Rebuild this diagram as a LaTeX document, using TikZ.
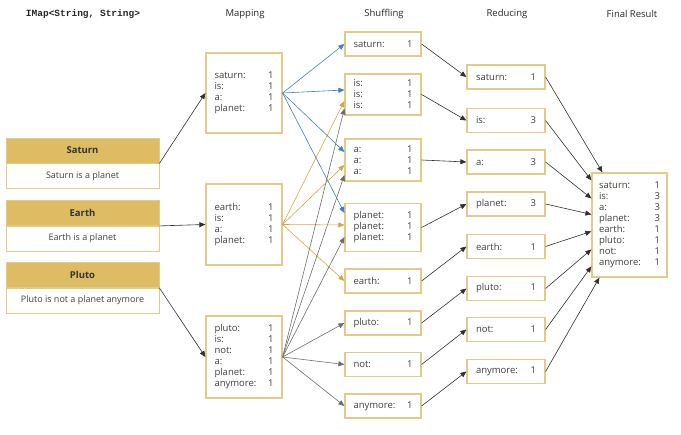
\documentclass[tikz,border=0pt]{standalone}
\usepackage{fontspec}
\setmainfont{Open Sans}
\newfontfamily\codefont{Liberation Mono}
\usetikzlibrary{arrows.meta,calc}
\definecolor{goldhdr}{HTML}{DEBC63}
\definecolor{goldline}{HTML}{E2CB88}
\definecolor{txt}{HTML}{404040}
\definecolor{arrblue}{HTML}{3D7CC9}
\definecolor{arrgold}{HTML}{D0A741}
\definecolor{arrgray}{HTML}{6E6E6E}
\definecolor{arrblack}{HTML}{303030}
\newcommand\kv[3][59pt]{\makebox[#1]{#2\hfill#3}}
\begin{document}
\begin{tikzpicture}[x=1pt,y=-1pt,
  box/.style={draw=goldline, line width=1.2pt, fill=white, minimum width=76pt, inner sep=0pt, text=txt, font=\fontsize{9.5}{11}\selectfont, align=left},
  hdr/.style={draw=goldline, fill=goldhdr, line width=0.8pt, minimum width=153pt, minimum height=25pt, inner sep=0pt, font=\fontsize{9.5}{10}\selectfont\bfseries, text=black!80},
  inbody/.style={draw=goldline, fill=white, line width=0.8pt, minimum width=153pt, minimum height=25pt, inner sep=0pt, font=\fontsize{9}{10}\selectfont, text=txt},
  coltitle/.style={font=\fontsize{9.5}{11}\selectfont, text=black!85, inner sep=0pt},
  conn/.style={-{Triangle[length=6pt,width=5pt]}, line width=0.6pt},
]
\useasboundingbox (0,0) rectangle (681,435);

% column titles
\node[coltitle] (t0) at (83,14) {\codefont\bfseries IMap<String, String>};
\node[coltitle] (t1) at (245,14) {Mapping};
\node[coltitle] (t2) at (384,14) {Shuffling};
\node[coltitle] (t3) at (507,14) {Reducing};
\node[coltitle] (t4) at (632,14) {Final Result};

% inputs
\node[inbody] (satb) at (82.5,176) {Saturn is a planet};
\node[hdr] (sat) at (82.5,150.5) {Saturn};
\node[inbody] (earb) at (82.5,238.5) {Earth is a planet};
\node[hdr] (ear) at (82.5,213) {Earth};
\node[inbody] (plub) at (82.5,300.5) {Pluto is not a planet anymore};
\node[hdr] (plu) at (82.5,275) {Pluto};

% mapping
\node[box, minimum height=80pt] (m1) at (244,93) {\kv{saturn:}{1}\\\kv{is:}{1}\\\kv{a:}{1}\\\kv{planet:}{1}};
\node[box, minimum height=81pt] (m2) at (244,224.5) {\kv{earth:}{1}\\\kv{is:}{1}\\\kv{a:}{1}\\\kv{planet:}{1}};
\node[box, minimum height=82pt] (m3) at (244,357) {\kv{pluto:}{1}\\\kv{is:}{1}\\\kv{not:}{1}\\\kv{a:}{1}\\\kv{planet:}{1}\\\kv{anymore:}{1}};

% shuffling
\node[box, minimum height=24pt] (s1) at (383,44) {\kv{saturn:}{1}};
\node[box, minimum height=41pt] (s2) at (383,94.5) {\kv{is:}{1}\\\kv{is:}{1}\\\kv{is:}{1}};
\node[box, minimum height=42pt] (s3) at (383,160) {\kv{a:}{1}\\\kv{a:}{1}\\\kv{a:}{1}};
\node[box, minimum height=48pt] (s4) at (383,227.5) {\kv{planet:}{1}\\\kv{planet:}{1}\\\kv{planet:}{1}};
\node[box, minimum height=24pt] (s5) at (383,281) {\kv{earth:}{1}};
\node[box, minimum height=24pt] (s6) at (383,323) {\kv{pluto:}{1}};
\node[box, minimum height=24pt] (s7) at (383,364.5) {\kv{not:}{1}};
\node[box, minimum height=24pt] (s8) at (383,406) {\kv{anymore:}{1}};

% reducing
\node[box, minimum width=78pt, minimum height=24pt] (r1) at (506,77) {\kv[60pt]{saturn:}{1}};
\node[box, minimum width=78pt, minimum height=24pt] (r2) at (506,120.5) {\kv[60pt]{is:}{3}};
\node[box, minimum width=78pt, minimum height=24pt] (r3) at (506,162) {\kv[60pt]{a:}{3}};
\node[box, minimum width=78pt, minimum height=24pt] (r4) at (506,204) {\kv[60pt]{planet:}{3}};
\node[box, minimum width=78pt, minimum height=24pt] (r5) at (506,246.5) {\kv[60pt]{earth:}{1}};
\node[box, minimum width=78pt, minimum height=24pt] (r6) at (506,288.5) {\kv[60pt]{pluto:}{1}};
\node[box, minimum width=78pt, minimum height=24pt] (r7) at (506,329.5) {\kv[60pt]{not:}{1}};
\node[box, minimum width=78pt, minimum height=24pt] (r8) at (506,371.5) {\kv[60pt]{anymore:}{1}};

% final
\node[box, minimum width=75pt, minimum height=104pt] (f) at (629.5,225) {\kv[61pt]{saturn:}{1}\\\kv[61pt]{is:}{3}\\\kv[61pt]{a:}{3}\\\kv[61pt]{planet:}{3}\\\kv[61pt]{earth:}{1}\\\kv[61pt]{pluto:}{1}\\\kv[61pt]{not:}{1}\\\kv[61pt]{anymore:}{1}};

% input -> mapping
\draw[conn, arrblack] (sat.south east) -- (m1.west);
\draw[conn, arrblack] (ear.south east) -- (m2.west);
\draw[conn, arrblack] (plu.south east) -- (m3.west);

% mapping -> shuffling
\draw[conn, arrblue] (m1.east) -- (s1.west);
\draw[conn, arrblue] (m1.east) -- ($(s2.west)+(0,-4.5)$);
\draw[conn, arrblue] (m1.east) -- ($(s3.west)+(0,-8)$);
\draw[conn, arrblue] (m1.east) -- ($(s4.west)+(0,-14.5)$);
\draw[conn, arrgold] (m2.east) -- ($(s2.west)+(0,6.5)$);
\draw[conn, arrgold] (m2.east) -- ($(s3.west)+(0,5)$);
\draw[conn, arrgold] (m2.east) -- ($(s4.west)+(0,-2.5)$);
\draw[conn, arrgold] (m2.east) -- (s5.west);
\draw[conn, arrgray] (m3.east) -- ($(s2.west)+(0,14)$);
\draw[conn, arrgray] (m3.east) -- ($(s3.west)+(0,15)$);
\draw[conn, arrgray] (m3.east) -- ($(s4.west)+(0,9.5)$);
\draw[conn, arrgray] (m3.east) -- (s6.west);
\draw[conn, arrgray] (m3.east) -- (s7.west);
\draw[conn, arrgray] (m3.east) -- (s8.west);

% shuffling -> reducing
\foreach \i in {1,...,8} {\draw[conn, arrblack] (s\i.east) -- (r\i.west);}

% reducing -> final
\draw[conn, arrblack] (r1.east) -- ($(f.north west)+(11,0)$);
\draw[conn, arrblack] (r2.east) -- ($(f.north west)+(0,8)$);
\draw[conn, arrblack] (r3.east) -- ($(f.north west)+(0,26)$);
\draw[conn, arrblack] (r4.east) -- ($(f.north west)+(0,42)$);
\draw[conn, arrblack] (r5.east) -- ($(f.north west)+(0,59)$);
\draw[conn, arrblack] (r6.east) -- ($(f.north west)+(0,77)$);
\draw[conn, arrblack] (r7.east) -- ($(f.north west)+(0,94)$);
\draw[conn, arrblack] (r8.east) -- ($(f.south west)+(8,0)$);
\end{tikzpicture}
\end{document}
